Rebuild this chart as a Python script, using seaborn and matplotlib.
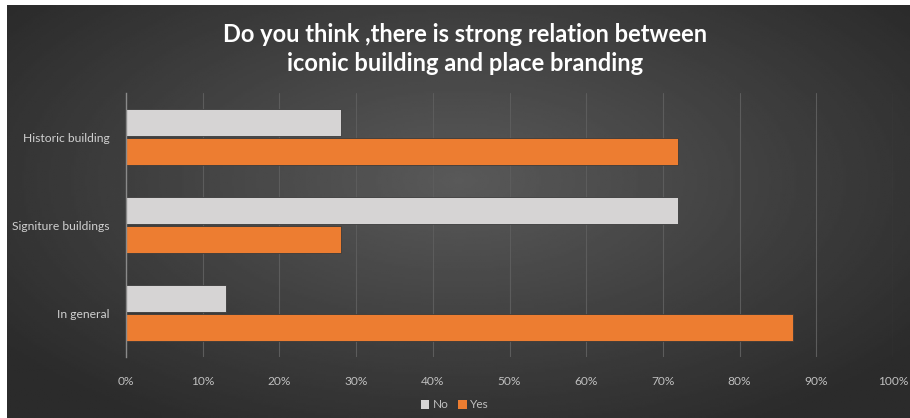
import numpy as np
import pandas as pd
import seaborn as sns
import matplotlib.pyplot as plt
from matplotlib.patches import Patch
from matplotlib.ticker import PercentFormatter

categories = ["Historic building", "Signiture buildings", "In general"]
no_values = [28, 72, 13]
yes_values = [72, 28, 87]
answers = ["No", "Yes"]
title = "Do you think ,there is strong relation between\niconic building and place branding"

df = pd.DataFrame({
    "Category": categories * 2,
    "Answer": ["No"] * len(categories) + ["Yes"] * len(categories),
    "Share": no_values + yes_values,
})

sns.set_theme(style="dark")
plt.rcParams['font.family'] = ['Lato', 'DejaVu Sans']

fig = plt.figure(figsize=(9.1, 4.18), dpi=100, facecolor="white")

# radial gradient background
bg = fig.add_axes([7 / 910, 0, 1 - 7 / 910, 1 - 5 / 418])
yy, xx = np.mgrid[-1:1:200j, -1:1:400j]
r = np.sqrt((xx / 1.0) ** 2 + ((yy + 0.15) / 1.1) ** 2)
shade = 0.35 - 0.18 * np.clip(r, 0, 1.25) / 1.25
bg.imshow(shade, cmap="gray", vmin=0, vmax=1, aspect="auto", extent=[0, 1, 0, 1])
bg.axis("off")

ax = fig.add_axes([126 / 910, 1 - 357 / 418, (893 - 126) / 910, (357 - 93) / 418])
ax.patch.set_alpha(0)
palette = {"No": "#d6d4d4", "Yes": "#ed7d31"}
sns.barplot(data=df, y="Category", x="Share", hue="Answer", hue_order=answers,
            order=categories, palette=palette, orient="h", width=0.66, gap=0.09,
            saturation=1, edgecolor="#3a3a3a", linewidth=0.6, legend=False, ax=ax)

ax.set_xlim(0, 100)
ax.set_ylim(2.5, -0.5)
ax.set_xticks(range(0, 101, 10))
ax.xaxis.set_major_formatter(PercentFormatter(decimals=0))
ax.grid(axis="x", color="#5c5c5c", linewidth=0.8)
ax.grid(axis="y", visible=False)
ax.set_axisbelow(True)
for side in ["top", "right", "bottom"]:
    ax.spines[side].set_visible(False)
ax.spines["left"].set_color("#8a8a8a")
ax.spines["left"].set_linewidth(1.0)
ax.tick_params(axis="x", colors="#bfbfbf", labelsize=8.6, pad=14, length=0)
ax.tick_params(axis="y", colors="#d0d0d0", labelsize=8.7, pad=12, length=0)
ax.set_xlabel("")
ax.set_ylabel("")

fig.text(0.511, 1 - 49 / 418, title, ha="center", va="center", color="white",
         fontsize=17, fontweight="bold", linespacing=1.35)

handles = [Patch(facecolor=palette[a], edgecolor="none", label=a) for a in answers]
fig.legend(handles=handles, loc="center", bbox_to_anchor=(0.5, 1 - 405 / 418), ncol=2,
           frameon=False, fontsize=8.6, labelcolor="#bfbfbf", handlelength=0.7,
           handleheight=0.7, handletextpad=0.3, columnspacing=0.8)

fig.savefig("out.png", dpi=100, facecolor="white")
